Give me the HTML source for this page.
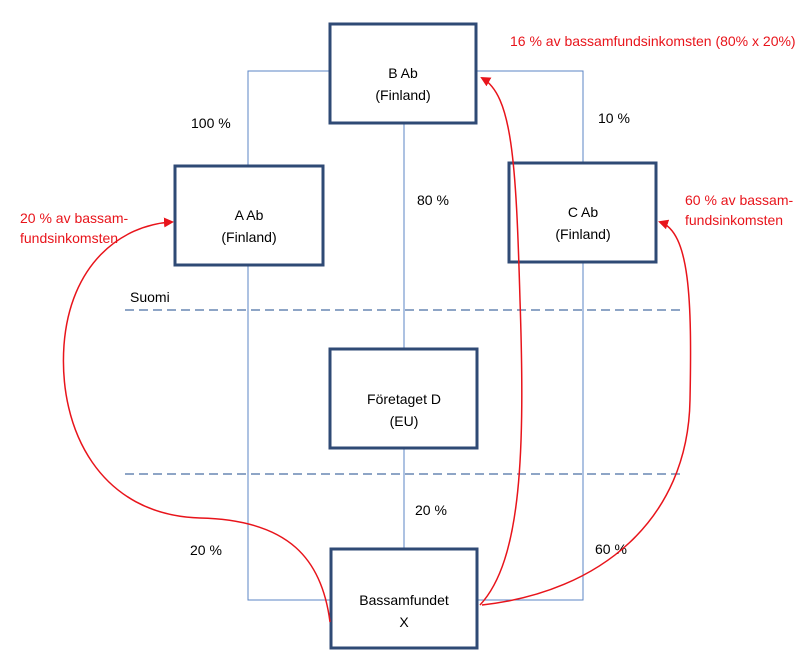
<!DOCTYPE html>
<html><head><meta charset="utf-8"><style>
html,body{margin:0;padding:0;background:#fff}
svg{display:block}
text{font-family:"Liberation Sans",Arial,sans-serif;font-size:14px}
</style></head><body>
<svg width="812" height="655" viewBox="0 0 812 655" xmlns="http://www.w3.org/2000/svg">
<defs>
<marker id="ar" markerWidth="10" markerHeight="10" refX="8" refY="5" orient="auto" markerUnits="userSpaceOnUse">
<path d="M0,0 L10,5 L0,10 z" fill="#e8141b"/></marker>
</defs>
<g stroke="#5b84c4" stroke-width="1" fill="none">
<polyline points="329,71 248,71 248,165"/>
<polyline points="477,71 583,71 583,162"/>
<line x1="404" y1="123" x2="404" y2="348"/>
<line x1="404" y1="448" x2="404" y2="548"/>
<polyline points="248,265 248,600 330,600"/>
<polyline points="583,263 583,600 478,600"/>
</g>
<g stroke="#4a6fa5" stroke-width="1.3" stroke-dasharray="9,5">
<line x1="125" y1="310" x2="685" y2="310"/>
<line x1="125" y1="474" x2="685" y2="474"/>
</g>
<g fill="#fff" stroke="#2f4a75" stroke-width="3">
<rect x="330" y="24" width="146" height="99"/>
<rect x="175" y="166" width="148" height="99"/>
<rect x="509" y="163" width="147" height="99"/>
<rect x="330" y="349" width="147" height="99"/>
<rect x="331" y="549" width="146" height="99"/>
</g>
<g fill="#000" text-anchor="middle">
<text x="403" y="78">B Ab</text><text x="403" y="100">(Finland)</text>
<text x="249" y="220">A Ab</text><text x="249" y="242">(Finland)</text>
<text x="583" y="217">C Ab</text><text x="583" y="239">(Finland)</text>
<text x="404" y="404">Företaget D</text><text x="404" y="426">(EU)</text>
<text x="404" y="605">Bassamfundet</text><text x="404" y="627">X</text>
</g>
<g fill="#000">
<text x="191" y="128">100 %</text>
<text x="598" y="123">10 %</text>
<text x="417" y="205">80 %</text>
<text x="130" y="302">Suomi</text>
<text x="415" y="515">20 %</text>
<text x="190" y="555">20 %</text>
<text x="595" y="554">60 %</text>
</g>
<g fill="#e8141b">
<text x="510" y="46">16 % av bassamfundsinkomsten (80% x 20%)</text>
<text x="20" y="223">20 % av bassam-</text>
<text x="20" y="243">fundsinkomsten</text>
<text x="685" y="205">60 % av bassam-</text>
<text x="685" y="225">fundsinkomsten</text>
</g>
<g stroke="#e8141b" stroke-width="1.5" fill="none">
<path d="M330,622 C322,560 290,520 200,518 C100,515 58,430 64,345 C70,265 120,225 172,222" marker-end="url(#ar)"/>
<path d="M480,605 C522,560 525,450 520,300 C516,160 512,95 482,78" marker-end="url(#ar)"/>
<path d="M482,605 C600,592 688,520 690,400 C692,300 690,232 660,222" marker-end="url(#ar)"/>
</g>
</svg>
</body></html>
